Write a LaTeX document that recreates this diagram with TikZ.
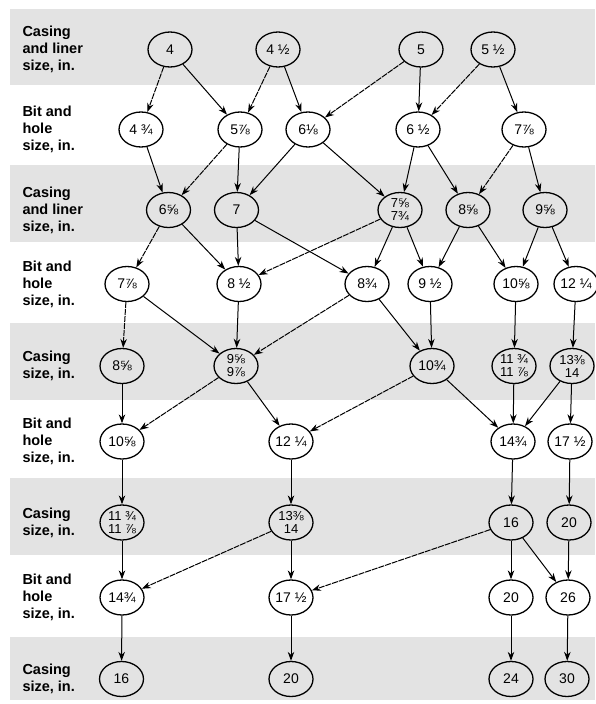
\documentclass[tikz,border=0pt]{standalone}
\usepackage{fontspec}
\setmainfont{Liberation Sans}
\usetikzlibrary{shapes.geometric,arrows.meta}
\tikzset{size node/.style={ellipse,draw,line width=1.3pt,minimum width=44pt,minimum height=35pt,inner sep=-4pt,
           align=center,font=\fontsize{14}{13.5}\selectfont},
         pair node/.style={size node,font=\fontsize{13}{13}\selectfont},
         row label/.style={anchor=west,align=left,inner sep=0pt,font=\fontsize{14.5}{17}\bfseries\selectfont},
         band/.style={fill=black!11,draw=none},
         rare/.style={dash pattern=on 6pt off 1pt}
}

\begin{document}
\begin{tikzpicture}[->,>={Stealth[length=9pt,width=6.5pt]},
x=1pt,y=-1pt,
line width=1pt]

\useasboundingbox (0,0) rectangle (595,704);

% shaded casing rows
\fill[band] (10,9) rectangle (595,85);
\fill[band] (10,165) rectangle (595,242);
\fill[band] (10,323) rectangle (595,400);
\fill[band] (10,478) rectangle (595,555);
\fill[band] (10,637) rectangle (595,700);

\node[row label] (l1) at (22,49.5) {Casing\\and liner\\size, in.};
\node[row label] (l2) at (22,129.5) {Bit and\\hole\\size, in.};
\node[row label] (l3) at (22,210) {Casing\\and liner\\size, in.};
\node[row label] (l4) at (22,284) {Bit and\\hole\\size, in.};
\node[row label] (l5) at (22,366) {Casing\\size, in.};
\node[row label] (l6) at (22,441.5) {Bit and\\hole\\size, in.};
\node[row label] (l7) at (22,522.5) {Casing\\size, in.};
\node[row label] (l8) at (22,597.5) {Bit and\\hole\\size, in.};
\node[row label] (l9) at (22,679) {Casing\\size, in.};

% row 1
\node[size node] (r1a) at (170,49.5) {4};
\node[size node] (r1b) at (278,49.5) {4 ½};
\node[size node] (r1c) at (421,49.5) {5};
\node[size node] (r1d) at (493,49.5) {5 ½};
% row 2
\node[size node] (r2a) at (141,129.5) {4 ¾};
\node[size node] (r2b) at (240,129.5) {5⅞};
\node[size node] (r2c) at (308,129.5) {6⅛};
\node[size node] (r2d) at (418,129.5) {6 ½};
\node[size node] (r2e) at (524,129.5) {7⅞};
% row 3
\node[size node] (r3a) at (168.5,210) {6⅝};
\node[size node] (r3b) at (236.5,210) {7};
\node[pair node] (r3c) at (400,210) {7⅝\\7¾};
\node[size node] (r3d) at (468,210) {8⅝};
\node[size node] (r3e) at (545,210) {9⅝};
% row 4
\node[size node] (r4a) at (127,284) {7⅞};
\node[size node] (r4b) at (239,284) {8 ½};
\node[size node] (r4c) at (367,284) {8¾};
\node[size node] (r4d) at (430,284) {9 ½};
\node[size node] (r4e) at (516,284) {10⅝};
\node[size node] (r4f) at (576,284) {12 ¼};
% row 5
\node[size node] (r5a) at (122,366) {8⅝};
\node[pair node] (r5b) at (236,366) {9⅝\\9⅞};
\node[size node] (r5c) at (432,366) {10¾};
\node[pair node] (r5d) at (514,366) {11 ¾\\11 ⅞};
\node[pair node] (r5e) at (572,366) {13⅜\\14};
% row 6
\node[size node] (r6a) at (122,441.5) {10⅝};
\node[size node] (r6b) at (291,441.5) {12 ¼};
\node[size node] (r6c) at (513,441.5) {14¾};
\node[size node] (r6d) at (570,441.5) {17 ½};
% row 7
\node[pair node] (r7a) at (122,522.5) {11 ¾\\11 ⅞};
\node[pair node] (r7b) at (291,522.5) {13⅜\\14};
\node[size node] (r7c) at (511,522.5) {16};
\node[size node] (r7d) at (569,522.5) {20};
% row 8
\node[size node] (r8a) at (122,597.5) {14¾};
\node[size node] (r8b) at (291,597.5) {17 ½};
\node[size node] (r8c) at (511,597.5) {20};
\node[size node] (r8d) at (568,597.5) {26};
% row 9
\node[size node] (r9a) at (121.5,679) {16};
\node[size node] (r9b) at (291,679) {20};
\node[size node] (r9c) at (511,679) {24};
\node[size node] (r9d) at (567,679) {30};

\draw (r1a) edge[rare] (r2a) edge (r2b);
\draw (r1b) edge[rare] (r2b) edge (r2c);
\draw (r1c) edge[rare] (r2c) edge (r2d);
\draw (r1d) edge[rare] (r2d) edge (r2e);

\draw (r2a) edge (r3a);
\draw (r2b) edge[rare] (r3a) edge (r3b);
\draw (r2c) edge (r3b) edge (r3c);
\draw (r2d) edge (r3c) edge (r3d);
\draw (r2e) edge[rare] (r3d) edge (r3e);

\draw (r3a) edge[rare] (r4a) edge (r4b);
\draw (r3b) edge (r4b) edge (r4c);
\draw (r3c) edge[rare] (r4b) edge (r4c) edge (r4d);
\draw (r3d) edge (r4d) edge (r4e);
\draw (r3e) edge (r4e) edge (r4f);

\draw (r4a) edge[rare] (r5a) edge (r5b);
\draw (r4b) edge (r5b);
\draw (r4c) edge[rare] (r5b) edge (r5c);
\draw (r4d) edge (r5c);
\draw (r4e) edge (r5d);
\draw (r4f) edge (r5e);

\draw (r5a) edge (r6a);
\draw (r5b) edge[rare] (r6a) edge (r6b);
\draw (r5c) edge[rare] (r6b) edge (r6c);
\draw (r5d) edge (r6c);
\draw (r5e) edge (r6c) edge (r6d);

\draw (r6a) edge (r7a);
\draw (r6b) edge (r7b);
\draw (r6c) edge (r7c);
\draw (r6d) edge (r7d);

\draw (r7a) edge (r8a);
\draw (r7b) edge[rare] (r8a) edge (r8b);
\draw (r7c) edge[rare] (r8b) edge (r8c) edge (r8d);
\draw (r7d) edge (r8d);

\draw (r8a) edge (r9a);
\draw (r8b) edge (r9b);
\draw (r8c) edge (r9c);
\draw (r8d) edge (r9d);
\end{tikzpicture}
\end{document}
